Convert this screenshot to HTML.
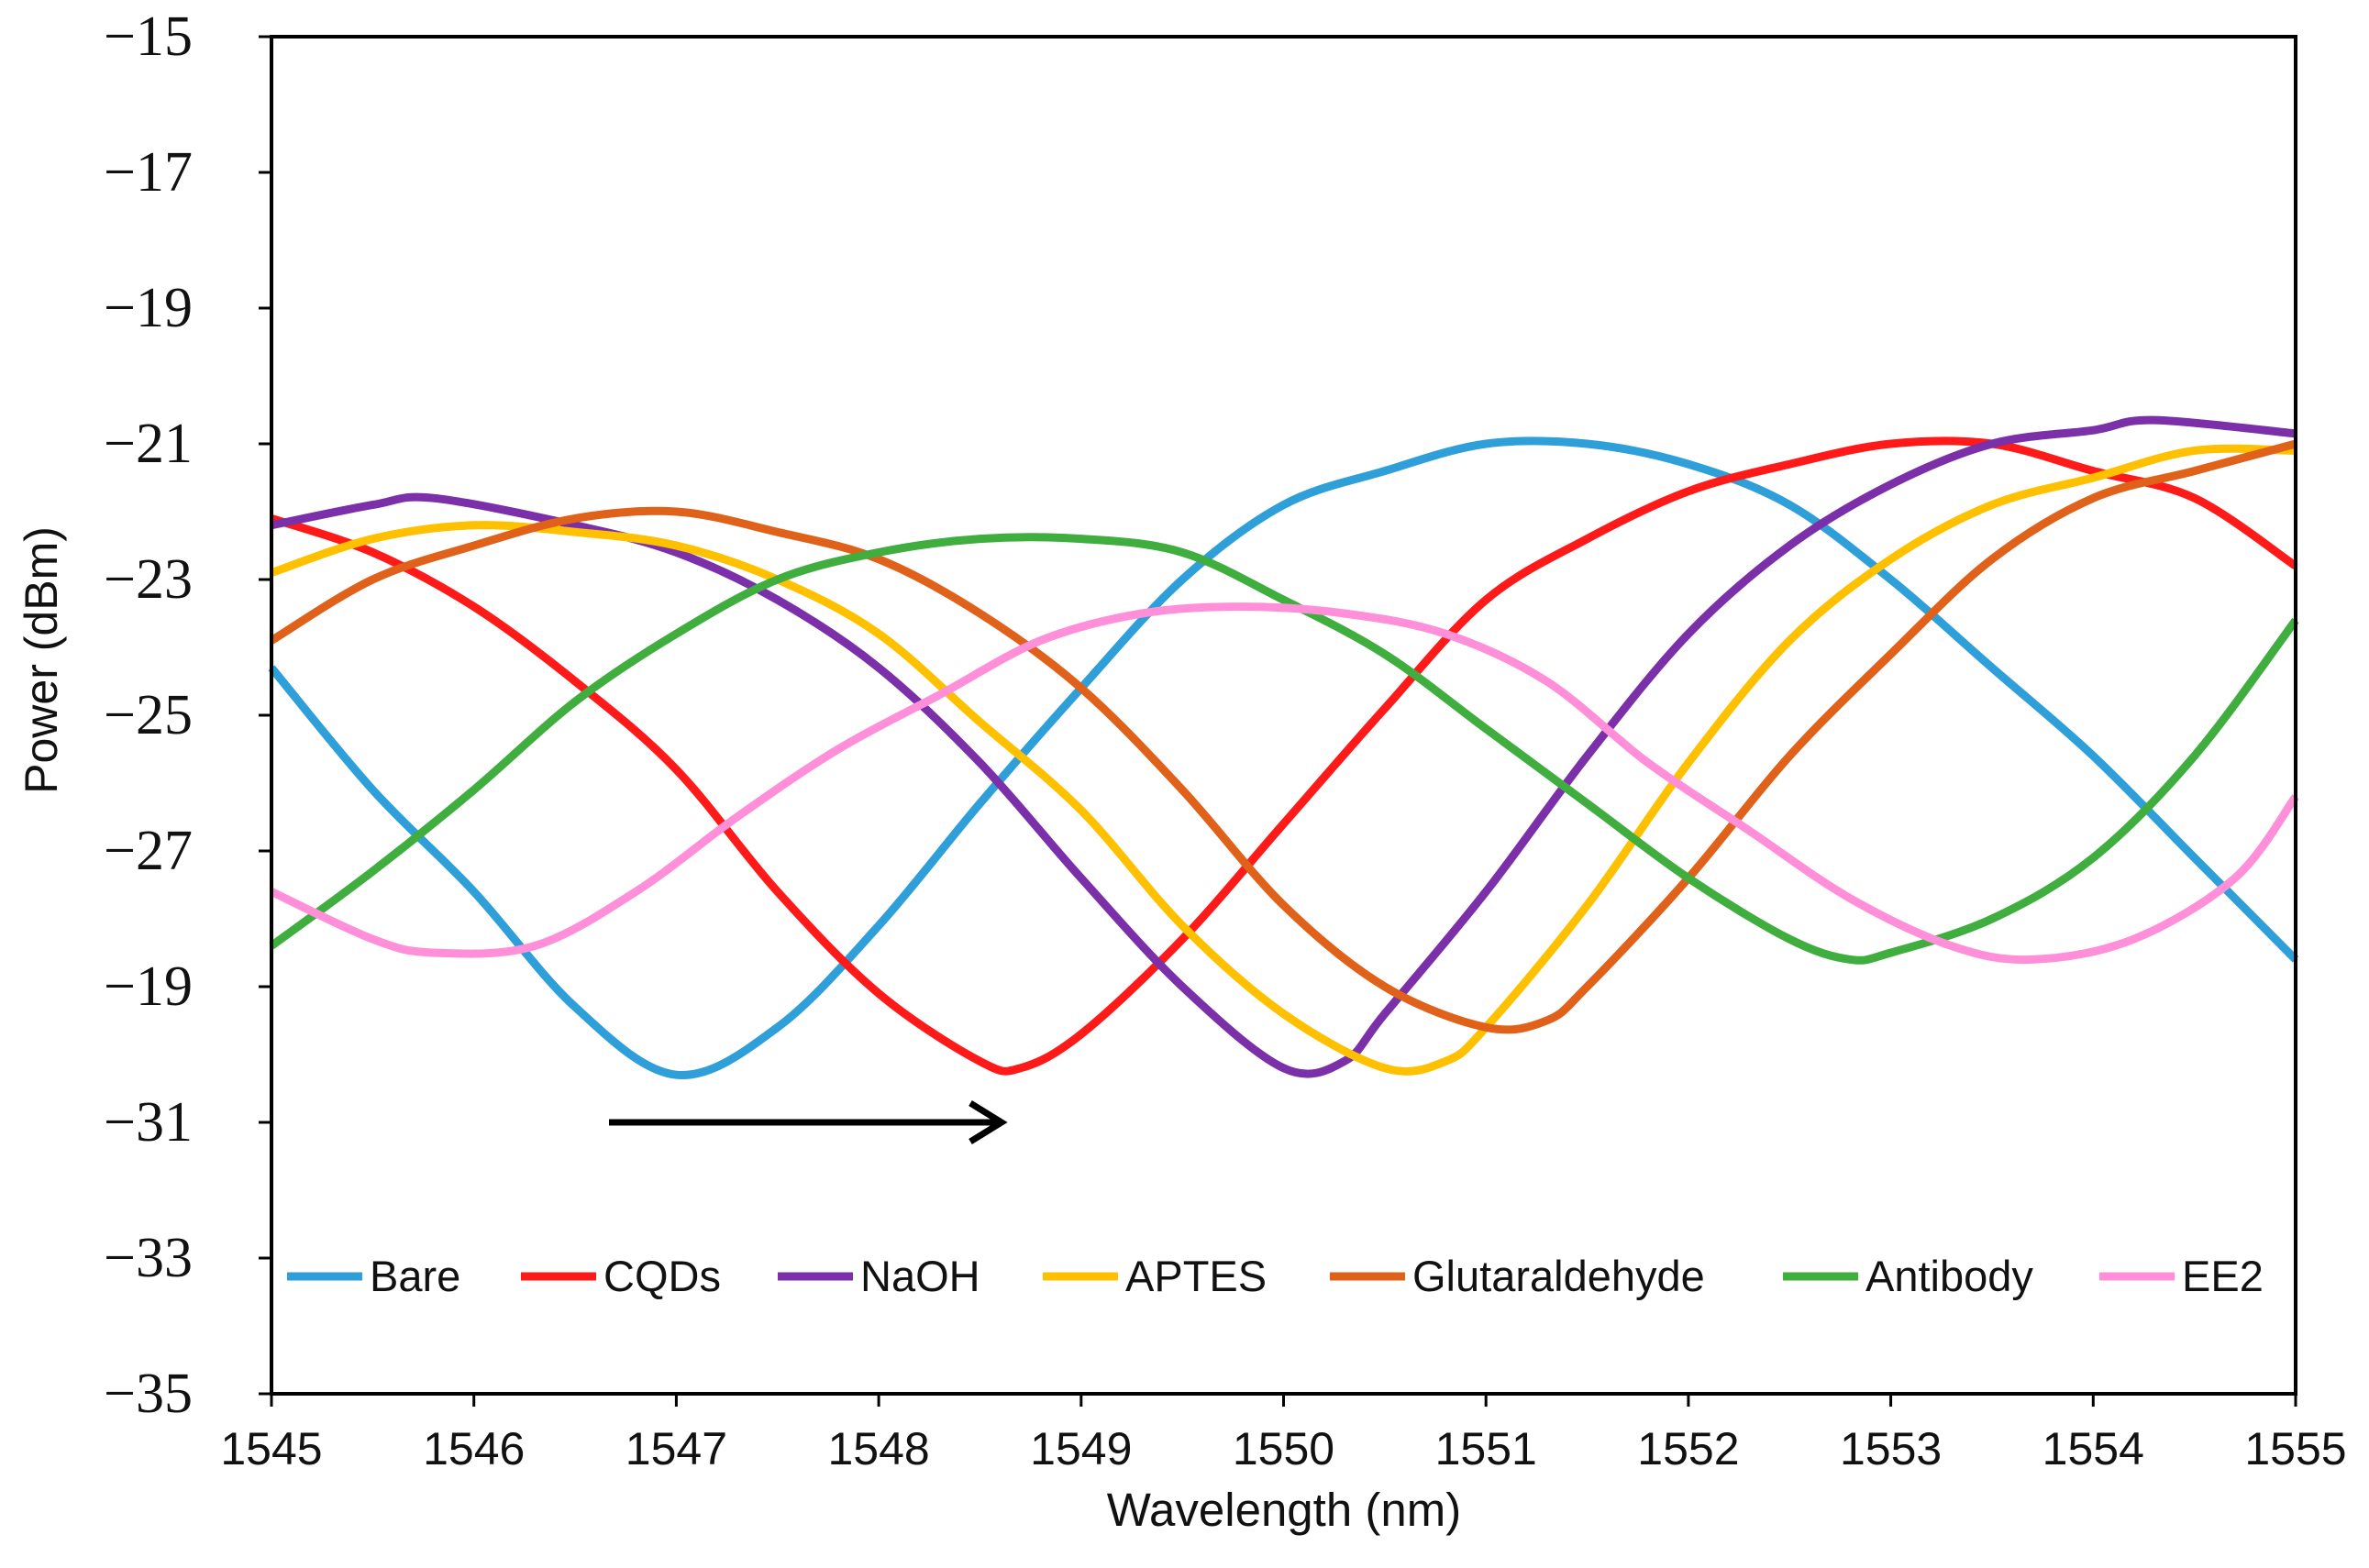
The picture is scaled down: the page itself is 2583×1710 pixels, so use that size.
<!DOCTYPE html>
<html><head><meta charset="utf-8"><style>
html,body{margin:0;padding:0;background:#fff}
svg{display:block}
.yt{font-family:"Liberation Serif",serif;font-size:62px;fill:#111}
.xt{font-family:"Liberation Sans",sans-serif;font-size:50px;fill:#111}
.lg{font-family:"Liberation Sans",sans-serif;font-size:47px;fill:#111}
</style></head><body>
<svg id="chart" width="2583" height="1710" viewBox="0 0 2583 1710" xmlns="http://www.w3.org/2000/svg">
<g id="series"></g>
<g id="axes"></g>
<g id="legend"></g>
<line x1="664" y1="1224" x2="1090" y2="1224" stroke="#000" stroke-width="7"/>
<polyline points="1058,1203 1092,1224 1058,1245" fill="none" stroke="#000" stroke-width="7"/>
<text x="1400" y="1664" text-anchor="middle" class="xt" style="font-size:51px">Wavelength (nm)</text>
<text transform="translate(62,720) rotate(-90)" text-anchor="middle" class="xt" style="font-size:50px">Power (dBm)</text>
</svg>
<script>
const xTicks=[1545,1546,1547,1548,1549,1550,1551,1552,1553,1554,1555];
const yTicks=[-15,-17,-19,-21,-23,-25,-27,-29,-31,-33,-35];
const yTickLabels=["\u221215","\u221217","\u221219","\u221221","\u221223","\u221225","\u221227","\u221219","\u221231","\u221233","\u221235"];
const seriesNames=["Bare","CQDs","NaOH","APTES","Glutaraldehyde","Antibody","EE2"];
const seriesColors=["#2e9fd8","#ff1a1a","#7b2fa8","#ffc000","#e0611a","#3fae3f","#ff8fd8"];
const bareX=[1545,1545.5,1546,1546.5,1547,1547.5,1548,1548.5,1549,1549.5,1550,1550.5,1551,1551.5,1552,1552.5,1553,1553.5,1554,1554.5,1555];
const bareY=[-24.3,-26.1,-27.6,-29.3,-30.3,-29.6,-28.1,-26.3,-24.6,-23.0,-21.9,-21.4,-21.0,-21.0,-21.3,-21.9,-23.0,-24.3,-25.6,-27.1,-28.6];
const cqdX=[1545,1545.5,1546,1546.5,1547,1547.5,1548,1548.5,1548.7,1549,1549.5,1550,1550.5,1551,1551.5,1552,1552.5,1553,1553.5,1554,1554.5,1555];
const cqdY=[-22.1,-22.6,-23.4,-24.5,-25.8,-27.6,-29.1,-30.1,-30.2,-29.7,-28.3,-26.6,-24.9,-23.3,-22.4,-21.7,-21.3,-21.0,-21.0,-21.4,-21.8,-22.8];
const naohX=[1545,1545.5,1545.8,1546.5,1547,1547.5,1548,1548.5,1549,1549.5,1550,1550.3,1550.5,1551,1551.5,1552,1552.5,1553,1553.5,1554,1554.3,1555];
const naohY=[-22.2,-21.9,-21.8,-22.2,-22.6,-23.3,-24.3,-25.7,-27.4,-29.0,-30.2,-30.1,-29.4,-27.6,-25.6,-23.8,-22.5,-21.6,-21.0,-20.8,-20.65,-20.85];
const aptesX=[1545,1545.5,1546,1546.5,1547,1547.5,1548,1548.5,1549,1549.5,1550,1550.5,1550.8,1551,1551.5,1552,1552.5,1553,1553.5,1554,1554.5,1555];
const aptesY=[-22.9,-22.4,-22.2,-22.3,-22.5,-23.0,-23.8,-25.1,-26.4,-28.1,-29.4,-30.2,-30.1,-29.6,-27.8,-25.7,-23.9,-22.7,-21.9,-21.5,-21.1,-21.1];
const glutX=[1545,1545.5,1546,1546.5,1547,1547.5,1548,1548.5,1549,1549.5,1550,1550.5,1551,1551.3,1551.5,1552,1552.5,1553,1553.5,1554,1554.5,1555];
const glutY=[-23.9,-23.0,-22.5,-22.1,-22.0,-22.3,-22.7,-23.5,-24.6,-26.1,-27.8,-29.0,-29.6,-29.5,-29.0,-27.4,-25.6,-24.1,-22.7,-21.8,-21.4,-21.0];
const abX=[1545,1545.5,1546,1546.5,1547,1547.5,1548,1548.5,1549,1549.5,1550,1550.5,1551,1551.5,1552,1552.5,1552.8,1553,1553.5,1554,1554.5,1555];
const abY=[-28.4,-27.3,-26.1,-24.8,-23.8,-23.0,-22.6,-22.4,-22.4,-22.6,-23.3,-24.1,-25.2,-26.3,-27.4,-28.3,-28.6,-28.5,-28.0,-27.1,-25.6,-23.6];
const ee2X=[1545,1545.5,1545.8,1546.3,1546.8,1547.3,1547.8,1548.3,1548.8,1549.3,1549.8,1550.3,1550.8,1551.3,1551.8,1552.3,1552.8,1553.3,1553.7,1554.2,1554.7,1555];
const ee2Y=[-27.6,-28.3,-28.5,-28.4,-27.6,-26.5,-25.5,-24.7,-23.9,-23.5,-23.4,-23.5,-23.8,-24.5,-25.7,-26.7,-27.7,-28.4,-28.6,-28.3,-27.4,-26.2];
const allX=[bareX,cqdX,naohX,aptesX,glutX,abX,ee2X];
const allY=[bareY,cqdY,naohY,aptesY,glutY,abY,ee2Y];

const L=296,R=2503,T=40,B=1520;
const xS=v=>L+(v-1545)/10*(R-L);
const yS=v=>T+(-15-v)/20*(B-T);
const NS="http://www.w3.org/2000/svg";
function mk(tag,attrs,parent){const e=document.createElementNS(NS,tag);for(const k in attrs)e.setAttribute(k,attrs[k]);parent.appendChild(e);return e;}
const sg=document.getElementById('series'),ag=document.getElementById('axes'),lg=document.getElementById('legend');

function smoothPath(xs,ys){
  const p=xs.map((x,i)=>[xS(x),yS(ys[i])]);
  let d=`M${p[0][0]},${p[0][1]}`;
  for(let i=0;i<p.length-1;i++){
    const p0=p[Math.max(0,i-1)],p1=p[i],p2=p[i+1],p3=p[Math.min(p.length-1,i+2)];
    const c1=[p1[0]+(p2[0]-p0[0])/6,p1[1]+(p2[1]-p0[1])/6];
    const c2=[p2[0]-(p3[0]-p1[0])/6,p2[1]-(p3[1]-p1[1])/6];
    d+=`C${c1[0]},${c1[1]} ${c2[0]},${c2[1]} ${p2[0]},${p2[1]}`;
  }
  return d;
}
for(let s=0;s<seriesNames.length;s++){
  const path=mk('path',{d:smoothPath(allX[s],allY[s]),fill:'none',stroke:seriesColors[s],'stroke-width':9,'stroke-linejoin':'round'},sg);
  
  
}
const frame=mk('rect',{x:L,y:T,width:R-L,height:B-T,fill:'none',stroke:'#000','stroke-width':4},ag);


yTicks.forEach((v,i)=>{
  const y=yS(v);
  const t=mk('line',{x1:L-14,x2:L,y1:y,y2:y,stroke:'#000','stroke-width':3},ag);
  
  
  const tx=mk('text',{x:210,y:y+20,'text-anchor':'end',class:'yt'},ag);
  tx.textContent=yTickLabels[i];
  
  
});
xTicks.forEach(v=>{
  const x=xS(v);
  const t=mk('line',{x1:x,x2:x,y1:B,y2:B+14,stroke:'#000','stroke-width':3},ag);
  
  
  const tx=mk('text',{x:x,y:1597,'text-anchor':'middle',class:'xt'},ag);
  tx.textContent=v;
  
  
});
const legX=[313,568,848,1137,1450,1944,2289];
seriesNames.forEach((n,i)=>{
  const g=mk('g',{},lg);
  
  
  mk('line',{x1:legX[i],x2:legX[i]+82,y1:1392,y2:1392,stroke:seriesColors[i],'stroke-width':9},g);
  const t=mk('text',{x:legX[i]+90,y:1408,class:'lg'},g);
  t.textContent=n;
});
</script>
</body></html>
